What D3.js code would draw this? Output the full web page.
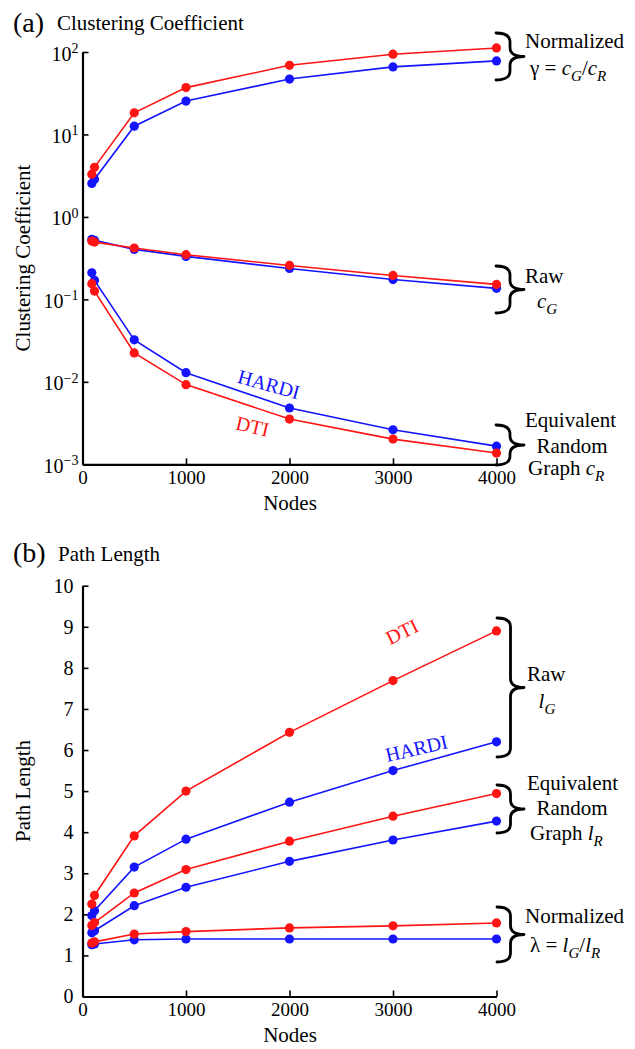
<!DOCTYPE html>
<html><head><meta charset="utf-8">
<script src="https://cdn.jsdelivr.net/npm/d3@7"></script>
<style>
body{margin:0;background:#fff}
svg{display:block}
text{font-family:"Liberation Serif","Times New Roman",serif;fill:#000}
</style>
</head><body>
<svg id="c" width="635" height="1049"></svg>
<script>
// ---------- data ----------
const nodes = [90, 116, 500, 1000, 2000, 3000, 4000];
const xTicks = [0, 1000, 2000, 3000, 4000];
const logTicks = [1e-3, 1e-2, 1e-1, 1, 10, 100];
const pathTicks = [0,1,2,3,4,5,6,7,8,9,10];

// (a) clustering coefficient
const gammaDTI   = [3.3, 4.0, 18.3, 37, 69, 94, 112];
const gammaHARDI = [2.55, 2.87, 12.6, 25.4, 47, 66, 78];
const cgDTI      = [0.51, 0.495, 0.42, 0.348, 0.258, 0.195, 0.152];
const cgHARDI    = [0.535, 0.52, 0.404, 0.332, 0.237, 0.174, 0.136];
const crDTI      = [0.155, 0.126, 0.0224, 0.00925, 0.00354, 0.00202, 0.00137];
const crHARDI    = [0.21, 0.17, 0.0323, 0.0129, 0.00482, 0.00262, 0.00166];

// (b) path length
const lgDTI    = [2.25, 2.46, 3.91, 5.0, 6.43, 7.69, 8.9];
const lgHARDI  = [1.97, 2.09, 3.15, 3.83, 4.73, 5.5, 6.2];
const lrDTI    = [1.73, 1.80, 2.52, 3.09, 3.78, 4.39, 4.94];
const lrHARDI  = [1.55, 1.60, 2.21, 2.66, 3.29, 3.81, 4.27];
const lamDTI   = [1.30, 1.33, 1.52, 1.58, 1.67, 1.72, 1.79];
const lamHARDI = [1.26, 1.28, 1.38, 1.40, 1.40, 1.40, 1.40];

// ---------- drawing ----------
const RED = "#ff1414", BLUE = "#1414ff";
const FONT = "Liberation Serif";
const svg = d3.select("#c");
svg.append("rect").attr("width",635).attr("height",1049).attr("fill","#fff");

const xA = d3.scaleLinear().domain([0,4000]).range([82.5,496.5]);
const yA = d3.scaleLog().domain([1e-3,1e2]).range([464.3,52]);
const xB = d3.scaleLinear().domain([0,4000]).range([82.5,496.5]);
const yB = d3.scaleLinear().domain([0,10]).range([996.5,585.7]);

function styleAxis(g){
  g.attr("font-family",FONT).attr("font-size",19);
  g.select(".domain").attr("stroke","#000").attr("stroke-width",2.2);
  g.selectAll(".tick line").attr("stroke","#000").attr("stroke-width",1.6);
  g.selectAll(".tick text").attr("fill","#000");
}

function drawSeries(g, x, y, vals, color){
  const line = d3.line().x((d,i)=>x(nodes[i])).y(d=>y(d));
  g.append("path").datum(vals).attr("d",line).attr("fill","none")
    .attr("stroke",color).attr("stroke-width",1.6);
  g.append("g").selectAll("circle").data(vals).join("circle")
    .attr("cx",(d,i)=>x(nodes[i])).attr("cy",d=>y(d)).attr("r",4.6).attr("fill",color);
}

function rich(g, x, y, parts, anchor, size){
  size = size || 21;
  const t = g.append("text").attr("x",x).attr("y",y).attr("font-size",size)
    .attr("text-anchor",anchor||"start");
  let shift = 0;
  parts.forEach(([s,k])=>{
    const sp = t.append("tspan").text(s);
    if(k==="i") sp.attr("font-style","italic");
    if(k==="sub"){
      sp.attr("font-style","italic").attr("font-size",size*0.72).attr("dy",6-shift);
      shift = 6;
    } else if(shift){ sp.attr("dy",-shift); shift = 0; }
  });
  return t;
}

function brace(g, x0, y0, y1, xt){
  const xm = (x0+xt)/2, ym = (y0+y1)/2, h = Math.min(9,(y1-y0)/4);
  const p = `M${x0},${y0} Q${xm},${y0} ${xm},${y0+h} L${xm},${ym-h} Q${xm},${ym} ${xt},${ym}`+
            ` Q${xm},${ym} ${xm},${ym+h} L${xm},${y1-h} Q${xm},${y1} ${x0},${y1}`;
  g.append("path").attr("d",p).attr("fill","none").attr("stroke","#000")
    .attr("stroke-width",2.8).attr("stroke-linejoin","round").attr("stroke-linecap","round");
}

// ===== Panel (a) =====
const A = svg.append("g");
A.append("text").attr("x",13).attr("y",32).attr("font-size",28).text("(a)");
A.append("text").attr("x",57).attr("y",30).attr("font-size",21).text("Clustering Coefficient");

A.append("g").attr("transform","translate(0,464.3)")
  .call(d3.axisBottom(xA).tickValues(xTicks).tickSizeInner(-6).tickSizeOuter(0).tickPadding(6).tickFormat(d3.format("d")))
  .call(styleAxis);

const ay = A.append("g").attr("transform","translate(82.5,0)")
  .call(d3.axisLeft(yA).tickValues(logTicks).tickSizeInner(-6).tickSizeOuter(0).tickPadding(4).tickFormat(()=>""))
  .call(styleAxis);
ay.selectAll(".tick text").attr("dy","0.4em").attr("font-size",20).each(function(d){
  const e = Math.round(Math.log10(d));
  const t = d3.select(this);
  t.append("tspan").text("10");
  t.append("tspan").attr("dy","-0.55em").attr("font-size",14).text(e<0 ? "\u2212"+(-e) : String(e));
});

A.append("text").attr("transform","translate(30,258) rotate(-90)").attr("text-anchor","middle")
  .attr("font-size",21).text("Clustering Coefficient");
A.append("text").attr("x",290).attr("y",509.5).attr("text-anchor","middle").attr("font-size",21).text("Nodes");

[[gammaHARDI,BLUE],[gammaDTI,RED],[cgHARDI,BLUE],[cgDTI,RED],[crHARDI,BLUE],[crDTI,RED]]
  .forEach(([v,c])=>drawSeries(A,xA,yA,v,c));

A.append("text").attr("transform","translate(267,391) rotate(15.5)").attr("text-anchor","middle")
  .attr("font-size",20).style("fill",BLUE).text("HARDI");
A.append("text").attr("transform","translate(251,433) rotate(13)").attr("text-anchor","middle")
  .attr("font-size",20).style("fill",RED).text("DTI");

brace(A, 496, 33, 80, 524);
rich(A, 525, 48.3, [["Normalized","n"]]);
rich(A, 530, 75, [["\u03B3 = ","n"],["c","i"],["G","sub"],["/","n"],["c","i"],["R","sub"]]);

brace(A, 496, 266, 313, 524);
rich(A, 525, 283, [["Raw","n"]]);
rich(A, 547, 307.5, [["c","i"],["G","sub"]], "middle");

brace(A, 496, 425, 465, 524);
rich(A, 525, 427, [["Equivalent","n"]]);
rich(A, 572, 453, [["Random","n"]], "middle");
rich(A, 528, 475, [["Graph ","n"],["c","i"],["R","sub"]]);

// ===== Panel (b) =====
const B = svg.append("g");
B.append("text").attr("x",13).attr("y",562).attr("font-size",28).text("(b)");
B.append("text").attr("x",58).attr("y",561).attr("font-size",21).text("Path Length");

B.append("g").attr("transform","translate(0,996.5)")
  .call(d3.axisBottom(xB).tickValues(xTicks).tickSizeInner(-6).tickSizeOuter(0).tickPadding(6).tickFormat(d3.format("d")))
  .call(styleAxis);
B.append("g").attr("transform","translate(82.5,0)")
  .call(d3.axisLeft(yB).tickValues(pathTicks).tickSizeInner(-6).tickSizeOuter(0).tickPadding(9).tickFormat(d3.format("d")))
  .call(styleAxis)
  .selectAll(".tick text").attr("font-size",20);

B.append("text").attr("transform","translate(30,791) rotate(-90)").attr("text-anchor","middle")
  .attr("font-size",21).text("Path Length");
B.append("text").attr("x",290).attr("y",1042).attr("text-anchor","middle").attr("font-size",21).text("Nodes");

[[lgHARDI,BLUE],[lgDTI,RED],[lrHARDI,BLUE],[lrDTI,RED],[lamHARDI,BLUE],[lamDTI,RED]]
  .forEach(([v,c])=>drawSeries(B,xB,yB,v,c));

B.append("text").attr("transform","translate(405,638) rotate(-26)").attr("text-anchor","middle")
  .attr("font-size",20).style("fill",RED).text("DTI");
B.append("text").attr("transform","translate(418,755) rotate(-13)").attr("text-anchor","middle")
  .attr("font-size",20).style("fill",BLUE).text("HARDI");

brace(B, 497, 618, 757, 524);
rich(B, 527, 681, [["Raw","n"]]);
rich(B, 547, 708, [["l","i"],["G","sub"]], "middle");

brace(B, 497, 785, 833, 524);
rich(B, 527, 790, [["Equivalent","n"]]);
rich(B, 572, 815, [["Random","n"]], "middle");
rich(B, 530, 840, [["Graph ","n"],["l","i"],["R","sub"]]);

brace(B, 497, 907, 962, 524);
rich(B, 525, 923, [["Normalized","n"]]);
rich(B, 530, 952, [["\u03BB = ","n"],["l","i"],["G","sub"],["/","n"],["l","i"],["R","sub"]]);
</script>
</body></html>
